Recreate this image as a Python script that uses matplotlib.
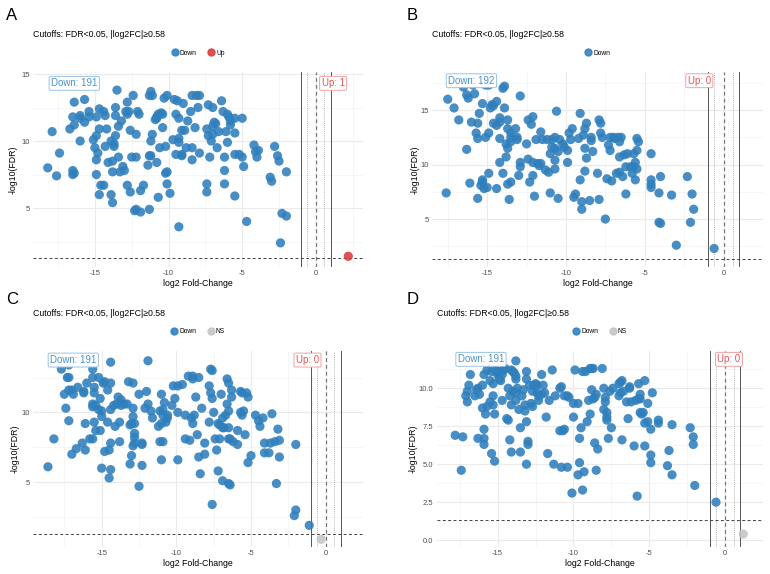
import matplotlib
matplotlib.use('Agg')
import matplotlib.pyplot as plt
from matplotlib.lines import Line2D

plt.rcParams['font.family'] = ['Liberation Sans', 'DejaVu Sans']
plt.rcParams['axes.unicode_minus'] = False

# ---- Panel A ----
a_down_x = [-18.2, -17.9, -17.6, -17.4, -16.7, -16.4, -16.5, -16.4, -16.5, -16.5,
            -16.4, -16.0, -16.0, -16.0, -15.7, -15.7, -15.4, -15.4, -15.1, -14.9,
            -15.0, -14.9, -14.9, -14.8, -14.9, -14.7, -14.7, -14.7, -14.6, -14.4,
            -14.4, -14.3, -14.3, -14.2, -14.1, -13.9, -13.9, -13.8, -13.8, -13.8,
            -13.7, -13.7, -13.6, -13.6, -13.6, -13.5, -13.4, -13.4, -13.3, -13.2,
            -13.1, -13.0, -12.9, -12.8, -12.8, -12.8, -12.7, -12.6, -12.6, -12.5,
            -12.4, -12.3, -12.2, -12.2, -12.2, -12.1, -12.0, -11.9, -11.9, -11.7,
            -11.4, -11.3, -11.3, -11.2, -11.3, -11.2, -11.2, -11.1, -11.1, -10.9,
            -10.8, -10.8, -10.7, -10.8, -10.7, -10.6, -10.5, -10.4, -10.4, -10.3,
            -10.2, -10.2, -10.1, -10.1, -10.1, -9.9, -9.7, -9.6, -9.5, -9.5,
            -9.4, -9.3, -9.3, -9.3, -9.3, -9.1, -9.1, -9.1, -9.0, -8.9,
            -8.8, -8.7, -8.5, -8.4, -8.4, -8.4, -8.2, -8.1, -8.0, -7.9,
            -7.9, -7.4, -7.4, -7.4, -7.3, -7.3, -7.2, -7.1, -7.0, -7.0,
            -7.0, -6.9, -6.8, -6.7, -6.6, -6.4, -6.3, -6.2, -6.2, -6.2,
            -6.1, -6.0, -6.0, -5.9, -5.8, -5.8, -5.5, -5.5, -5.5, -5.5,
            -5.2, -5.0, -5.0, -4.9, -4.7, -4.2, -4.1, -4.0, -3.9, -3.1,
            -3.0, -2.8, -2.6, -2.5, -2.4, -2.3, -2.0, -2.0]
a_down_y = [8.0, 10.7, 7.4, 9.1, 10.9, 12.9, 11.8, 11.2, 7.8, 7.5,
            7.6, 11.7, 11.9, 10.0, 13.1, 11.4, 12.2, 11.8, 10.1, 10.4,
            9.5, 7.5, 8.6, 9.1, 11.8, 12.4, 10.9, 6.0, 6.7, 6.7,
            12.2, 11.9, 9.6, 10.9, 8.4, 6.0, 10.0, 8.5, 5.4, 7.7,
            9.8, 9.6, 10.4, 11.9, 12.5, 13.8, 11.1, 8.8, 7.7, 11.5,
            8.1, 7.8, 12.2, 12.9, 12.0, 6.7, 12.2, 10.8, 6.2, 8.8,
            13.4, 4.8, 8.8, 10.5, 4.9, 12.2, 12.0, 4.7, 6.3, 6.7,
            8.2, 8.9, 4.9, 8.9, 13.4, 10.0, 13.7, 13.4, 10.5, 11.6,
            11.7, 11.8, 12.0, 8.4, 5.8, 9.5, 12.1, 11.0, 12.0, 13.2,
            9.6, 7.6, 13.4, 7.7, 6.8, 6.1, 10.1, 13.1, 12.0, 9.0,
            13.0, 11.7, 10.2, 9.9, 3.6, 8.9, 9.0, 10.8, 12.8, 10.8,
            9.5, 11.5, 12.2, 9.5, 8.6, 13.4, 11.0, 13.4, 12.5, 13.4,
            9.1, 6.8, 6.2, 10.9, 10.4, 12.7, 8.8, 10.0, 10.5, 12.5,
            11.1, 11.4, 11.3, 9.5, 10.7, 13.0, 12.2, 8.8, 6.8, 7.8,
            10.7, 9.9, 12.0, 11.8, 11.5, 11.2, 11.7, 9.0, 10.6, 5.9,
            9.0, 11.7, 8.8, 8.1, 4.0, 9.7, 9.2, 8.8, 9.3, 7.3,
            7.0, 9.6, 8.9, 8.5, 2.4, 4.6, 4.4, 7.7]
a_up_x = [2.2]
a_up_y = [1.4]

# ---- Panel B ----
b_down_x = [-17.6, -17.5, -17.1, -16.8, -16.5, -16.3, -16.3, -16.2, -16.1, -16.0,
            -15.9, -15.8, -15.7, -15.6, -15.6, -15.6, -15.5, -15.4, -15.3, -15.3,
            -15.3, -15.2, -15.1, -15.1, -15.0, -14.9, -14.9, -14.9, -14.8, -14.7,
            -14.6, -14.6, -14.4, -14.4, -14.4, -14.2, -14.2, -14.2, -14.2, -14.0,
            -14.0, -13.9, -13.9, -13.8, -13.8, -13.7, -13.7, -13.7, -13.7, -13.6,
            -13.5, -13.5, -13.5, -13.5, -13.2, -13.1, -13.1, -13.0, -12.9, -12.9,
            -12.9, -12.5, -12.4, -12.4, -12.3, -12.2, -12.1, -12.1, -12.1, -12.0,
            -11.9, -11.8, -11.7, -11.6, -11.6, -11.5, -11.3, -11.2, -11.1, -11.0,
            -11.0, -10.9, -10.9, -10.7, -10.7, -10.7, -10.7, -10.6, -10.5, -10.5,
            -10.4, -10.2, -10.1, -9.9, -9.9, -9.8, -9.7, -9.6, -9.5, -9.4,
            -9.2, -9.1, -9.1, -9.0, -9.0, -8.9, -8.8, -8.8, -8.8, -8.7,
            -8.7, -8.5, -8.4, -8.4, -8.3, -8.0, -7.9, -7.9, -7.8, -7.8,
            -7.7, -7.5, -7.4, -7.3, -7.2, -7.2, -7.1, -7.0, -6.9, -6.8,
            -6.7, -6.6, -6.6, -6.6, -6.5, -6.4, -6.3, -6.2, -6.2, -6.1,
            -5.9, -5.8, -5.7, -5.7, -5.6, -5.6, -5.5, -5.5, -5.5, -5.4,
            -4.6, -4.6, -4.6, -4.6, -4.1, -4.0, -4.1, -4.0, -3.3, -3.0,
            -2.3, -2.1, -2.0, -1.9, -0.6]
b_down_y = [7.4, 16.0, 15.2, 14.1, 17.1, 11.4, 16.4, 16.1, 8.3, 13.9,
            17.3, 16.5, 12.9, 13.8, 12.4, 6.9, 14.7, 8.1, 8.6, 8.4,
            15.6, 7.8, 12.5, 17.3, 7.9, 17.3, 9.2, 12.9, 15.2, 15.5,
            15.4, 13.8, 13.6, 15.8, 7.8, 12.4, 10.2, 14.3, 13.9, 9.2,
            17.0, 17.2, 15.2, 11.9, 10.7, 14.1, 13.3, 11.5, 8.2, 6.8,
            8.4, 12.9, 12.5, 12.1, 13.3, 12.5, 12.3, 9.0, 9.8, 10.2,
            16.3, 11.9, 14.1, 10.5, 8.4, 13.7, 9.0, 10.2, 14.4, 7.1,
            12.3, 10.1, 9.9, 10.1, 13.0, 12.3, 9.5, 12.3, 9.3, 11.0,
            7.4, 12.3, 11.6, 10.4, 9.6, 12.5, 11.5, 14.9, 11.2, 6.9,
            12.3, 11.9, 11.6, 11.3, 10.2, 12.9, 12.3, 13.3, 7.0, 7.3,
            12.4, 8.6, 14.7, 5.9, 6.6, 12.7, 11.5, 9.4, 13.3, 10.6,
            13.8, 6.7, 12.2, 12.5, 11.2, 9.2, 14.1, 6.8, 13.8, 12.9,
            12.5, 5.0, 8.7, 11.8, 12.5, 11.3, 8.5, 12.5, 12.4, 9.2,
            12.5, 9.3, 12.1, 10.7, 12.5, 8.9, 10.9, 9.8, 7.3, 11.0,
            9.8, 9.2, 11.0, 9.8, 10.2, 8.6, 12.4, 11.3, 9.6, 12.1,
            11.0, 8.6, 8.2, 7.9, 7.4, 8.9, 4.7, 4.6, 7.2, 2.6,
            8.9, 4.7, 7.3, 5.9, 2.3]

# ---- Panel C ----
c_down_x = [-18.6, -18.2, -17.7, -17.5, -17.4, -17.3, -17.2, -17.2, -17.2, -17.0,
            -17.0, -16.9, -16.7, -16.6, -16.3, -16.2, -16.2, -16.1, -16.1, -16.0,
            -15.8, -15.6, -15.6, -15.6, -15.6, -15.6, -15.5, -15.5, -15.5, -15.4,
            -15.4, -15.2, -15.2, -15.1, -15.1, -15.0, -15.0, -15.0, -14.9, -14.8,
            -14.8, -14.6, -14.6, -14.5, -14.5, -14.4, -14.4, -14.4, -14.4, -14.4,
            -14.2, -14.1, -14.0, -13.9, -13.8, -13.8, -13.7, -13.7, -13.5, -13.3,
            -13.2, -13.1, -13.1, -13.0, -13.0, -12.9, -12.9, -12.9, -12.9, -12.8,
            -12.8, -12.8, -12.8, -12.5, -12.5, -12.3, -12.3, -12.3, -12.1, -12.0,
            -11.9, -11.9, -11.7, -11.6, -11.2, -11.1, -11.1, -11.0, -11.0, -11.0,
            -10.9, -10.9, -10.9, -10.8, -10.7, -10.6, -10.6, -10.3, -10.2, -10.1,
            -9.9, -9.9, -9.9, -9.6, -9.4, -9.4, -9.2, -9.1, -9.0, -8.9,
            -8.9, -8.9, -8.8, -8.7, -8.6, -8.5, -8.5, -8.4, -8.3, -8.1,
            -8.1, -7.8, -7.8, -7.7, -7.7, -7.6, -7.6, -7.6, -7.5, -7.4,
            -7.3, -7.2, -7.2, -7.1, -7.1, -7.0, -6.9, -6.9, -6.9, -6.8,
            -6.7, -6.6, -6.6, -6.5, -6.5, -6.5, -6.5, -6.5, -6.4, -6.4,
            -6.3, -6.3, -6.2, -5.9, -5.9, -5.7, -5.7, -5.6, -5.6, -5.5,
            -5.4, -5.3, -5.2, -5.2, -5.0, -4.7, -4.5, -4.4, -4.2, -4.1,
            -4.1, -3.8, -3.7, -3.6, -3.4, -3.3, -3.2, -3.1, -3.1, -2.0,
            -2.0, -2.1, -1.1, -17.2]
c_down_y = [6.1, 8.1, 13.1, 11.3, 10.3, 12.5, 9.4, 12.5, 11.6, 7.0,
            11.6, 11.3, 7.4, 11.8, 7.8, 11.5, 11.4, 9.2, 7.3, 12.1,
            8.1, 13.1, 12.5, 10.4, 10.6, 8.1, 9.3, 11.8, 11.4, 8.7,
            10.5, 12.5, 10.2, 11.0, 8.7, 6.0, 10.1, 9.7, 12.1, 7.2,
            12.2, 11.6, 9.3, 5.3, 7.3, 13.6, 12.1, 10.2, 5.9, 7.8,
            10.5, 9.0, 10.6, 11.1, 9.3, 7.9, 10.9, 10.5, 10.6, 10.6,
            12.2, 6.3, 9.1, 6.9, 9.2, 9.7, 12.1, 10.3, 7.6, 8.5,
            8.2, 7.8, 9.2, 11.3, 4.7, 7.8, 7.7, 6.2, 10.3, 11.5,
            10.6, 13.7, 10.1, 9.6, 9.0, 7.9, 10.1, 11.3, 9.2, 6.6,
            7.9, 9.8, 10.2, 10.7, 9.3, 9.8, 9.6, 10.5, 11.9, 11.0,
            6.6, 10.0, 11.9, 12.0, 9.8, 8.1, 12.6, 8.0, 9.6, 9.2,
            12.6, 12.4, 9.8, 11.1, 8.4, 12.5, 6.8, 5.6, 10.3, 7.8,
            7.0, 9.3, 11.9, 11.4, 13.1, 3.4, 13.0, 11.0, 10.0, 8.1,
            7.3, 9.2, 5.8, 9.1, 8.1, 11.3, 5.1, 9.6, 8.9, 8.9,
            9.8, 10.6, 12.4, 12.1, 10.1, 8.9, 4.9, 8.1, 8.1, 4.8,
            11.6, 11.1, 7.9, 8.7, 7.7, 11.5, 10.0, 11.4, 9.8, 10.1,
            8.4, 11.4, 11.1, 6.4, 6.9, 9.8, 9.4, 9.0, 9.6, 7.8,
            7.1, 7.1, 7.8, 9.9, 7.9, 4.9, 8.8, 8.0, 6.8, 7.7,
            3.0, 2.6, 1.9, 13.4]
c_ns_x = [-0.3]
c_ns_y = [0.9]

# ---- Panel D ----
d_down_x = [-17.8, -17.4, -17.3, -17.1, -17.0, -17.0, -16.9, -16.8, -16.5, -16.4,
            -16.3, -16.3, -16.2, -16.0, -16.0, -15.9, -15.9, -15.9, -15.9, -15.8,
            -15.7, -15.7, -15.5, -15.5, -15.4, -15.4, -15.3, -15.3, -15.3, -15.2,
            -15.2, -15.1, -15.1, -15.0, -14.9, -14.8, -14.8, -14.7, -14.7, -14.6,
            -14.5, -14.4, -14.3, -14.3, -14.2, -14.2, -14.1, -14.1, -14.1, -14.0,
            -14.0, -13.9, -13.8, -13.8, -13.8, -13.8, -13.8, -13.7, -13.6, -13.5,
            -13.5, -13.4, -13.3, -13.2, -13.2, -13.1, -13.1, -13.1, -13.1, -13.0,
            -13.0, -12.9, -12.8, -12.7, -12.7, -12.6, -12.5, -12.4, -12.4, -12.3,
            -12.3, -12.1, -12.1, -12.0, -11.9, -11.8, -11.7, -11.6, -11.4, -11.3,
            -11.2, -10.9, -10.8, -10.8, -10.9, -10.7, -10.6, -10.6, -10.4, -10.4,
            -10.3, -10.1, -10.0, -10.0, -9.9, -9.7, -9.7, -9.6, -9.6, -9.5,
            -9.4, -9.4, -9.3, -9.2, -9.1, -9.0, -8.9, -8.9, -8.8, -8.8,
            -8.7, -8.7, -8.6, -8.6, -8.5, -8.5, -8.4, -8.1, -8.0, -8.0,
            -7.9, -7.9, -7.8, -7.8, -7.8, -7.7, -7.6, -7.5, -7.4, -7.0,
            -7.0, -6.9, -6.9, -6.8, -6.8, -6.7, -6.5, -6.4, -6.3, -6.3,
            -6.2, -6.0, -5.9, -5.8, -5.7, -5.7, -5.6, -5.6, -5.6, -5.5,
            -5.4, -5.3, -5.3, -5.3, -5.1, -5.1, -4.9, -4.9, -4.9, -4.8,
            -4.4, -4.4, -3.8, -3.7, -3.5, -3.5, -2.3, -2.1, -2.1, -2.0,
            -0.6]
d_down_y = [6.9, 4.6, 6.8, 9.5, 9.1, 9.8, 10.2, 10.9, 9.5, 9.9,
            10.0, 6.7, 9.6, 10.2, 8.7, 6.7, 6.3, 7.3, 10.9, 8.3,
            8.8, 11.2, 9.1, 10.5, 11.1, 5.7, 9.5, 10.3, 8.9, 5.2,
            8.3, 11.1, 11.2, 10.9, 10.6, 10.5, 11.1, 10.9, 9.2, 11.2,
            11.3, 8.0, 7.9, 10.0, 9.5, 6.6, 11.2, 5.8, 8.9, 9.8,
            11.1, 11.0, 10.8, 10.6, 11.8, 9.7, 9.2, 10.0, 8.6, 5.8,
            7.4, 9.5, 9.9, 8.9, 8.5, 5.0, 10.6, 11.1, 7.8, 6.3,
            6.5, 10.2, 9.0, 8.8, 9.8, 10.2, 10.3, 9.7, 10.2, 9.5,
            9.2, 10.9, 9.6, 10.2, 9.7, 8.1, 5.7, 9.2, 11.2, 5.0,
            9.5, 10.0, 10.1, 4.8, 7.2, 7.2, 7.3, 9.5, 9.5, 4.8,
            9.4, 3.1, 9.0, 8.1, 11.2, 4.3, 9.0, 5.1, 6.7, 7.4,
            3.3, 11.1, 4.5, 11.1, 7.8, 9.2, 11.3, 8.3, 9.9, 11.3,
            9.3, 11.3, 9.4, 6.4, 4.6, 9.6, 6.0, 11.3, 8.6, 10.0,
            9.4, 9.1, 8.4, 8.1, 7.9, 6.7, 9.8, 7.4, 10.0, 9.5,
            10.3, 10.4, 9.7, 6.6, 10.5, 9.8, 9.1, 8.0, 10.0, 10.1,
            9.1, 6.2, 9.2, 2.9, 9.3, 10.3, 9.6, 9.3, 8.4, 8.3,
            8.4, 7.7, 10.5, 6.2, 9.0, 7.8, 5.6, 5.1, 7.3, 9.7,
            7.9, 7.7, 4.9, 5.9, 7.6, 4.3, 7.4, 6.8, 6.3, 3.6,
            2.5]
d_ns_x = [1.2]
d_ns_y = [0.4]

down_counts = [191, 192, 191, 191]
up_counts = [1, 0, 0, 0]
panel_letters = ['A', 'B', 'C', 'D']
subtitle = 'Cutoffs: FDR<0.05, |log2FC|\u22650.58'

BLUE = '#2f7fbc'
RED = '#d93a3a'
GREY = '#c4c4c4'

fig = plt.figure(figsize=(7.7, 5.74), dpi=100)

W, H = 770, 574


def make_ax(left, top, right, bottom):
    return fig.add_axes([left / W, 1 - bottom / H, (right - left) / W, (bottom - top) / H])


# panel boxes in pixels (left, top, right, bottom)
boxes = [(33, 72, 363, 267), (432, 72, 763, 267), (33, 351, 363, 547), (437, 351, 763, 547)]
axes = [make_ax(*b) for b in boxes]

series = [
    [(a_down_x, a_down_y, BLUE, 'Down'), (a_up_x, a_up_y, RED, 'Up')],
    [(b_down_x, b_down_y, BLUE, 'Down')],
    [(c_down_x, c_down_y, BLUE, 'Down'), (c_ns_x, c_ns_y, GREY, 'NS')],
    [(d_down_x, d_down_y, BLUE, 'Down'), (d_ns_x, d_ns_y, GREY, 'NS')],
]
xlims = [(-19.2, 3.2), (-18.5, 1.85), (-19.6, 1.9), (-19.0, 2.1)]
ylims = [(0.6, 15.15), (0.6, 18.5), (0.35, 14.4), (-0.45, 12.45)]
yticks = [[5, 10, 15], [5, 10, 15], [5, 10], [0, 2.5, 5, 7.5, 10]]
yminor = [[2.5, 7.5, 12.5], [2.5, 7.5, 12.5, 17.5], [2.5, 7.5, 12.5],
          [1.25, 3.75, 6.25, 8.75, 11.25]]
ylabels_fmt = ['{:g}', '{:g}', '{:g}', '{:.1f}']
down_label_pos = [(-16.4, 14.3), (-16.0, 17.7), (-16.9, 13.75), (-16.1, 11.9)]
up_label_pos = [(1.17, 14.3), (-1.54, 17.7), (-1.22, 13.75), (0.26, 11.9)]
ylabel_px = [13, 415, 15, 413]   # centre of the rotated y title, in pixels

for i, ax in enumerate(axes):
    left, top, right, bottom = boxes[i]
    ax.set_xlim(*xlims[i])
    ax.set_ylim(*ylims[i])
    ax.set_xticks([-15, -10, -5, 0])
    ax.set_xticks([-17.5, -12.5, -7.5, -2.5, 2.5], minor=True)
    ax.set_yticks(yticks[i])
    ax.set_yticklabels([ylabels_fmt[i].format(t) for t in yticks[i]])
    ax.set_yticks(yminor[i], minor=True)
    ax.grid(which='major', color='#ebebeb', lw=0.8)
    ax.grid(which='minor', color='#f3f3f3', lw=0.5)
    ax.set_axisbelow(True)
    for s in ax.spines.values():
        s.set_visible(False)
    ax.tick_params(which='both', length=0, labelsize=5.5, labelcolor='#4d4d4d', pad=2.5)

    # cutoff lines
    ax.axvline(-1, color='#555555', lw=0.7, zorder=1)
    ax.axvline(1, color='#555555', lw=0.7, zorder=1)
    ax.axvline(-0.58, color='#999999', lw=0.6, ls=(0, (1, 1.5)), zorder=1)
    ax.axvline(0.58, color='#999999', lw=0.6, ls=(0, (1, 1.5)), zorder=1)
    ax.axvline(0, color='#777777', lw=0.9, ls=(0, (3, 2.5)), zorder=1)
    ax.axhline(1.3, color='#444444', lw=0.7, ls=(0, (3, 2.5)), zorder=1)

    handles = []
    for xs, ys, col, name in series[i]:
        assert len(xs) == len(ys)
        ax.scatter(xs, ys, s=44, color=col, alpha=0.88, edgecolors='none', zorder=3)
        handles.append(Line2D([], [], ls='none', marker='o', ms=5, color=col,
                              alpha=0.88, label=name))

    ax.legend(handles=handles, loc='center', bbox_to_anchor=(0.5, 1.097), ncol=len(handles),
              frameon=False, fontsize=4.8, handletextpad=0.3, columnspacing=1.6,
              handlelength=1.0, borderaxespad=0)

    dx, dy = down_label_pos[i]
    ax.text(dx, dy, 'Down: %d' % down_counts[i], color='#4a93c9', fontsize=7,
            ha='center', va='center', zorder=5,
            bbox=dict(boxstyle='round,pad=0.2,rounding_size=0.15', fc='white',
                      ec='#9cc3e2', lw=0.7))
    ux, uy = up_label_pos[i]
    ax.text(ux, uy, 'Up: %d' % up_counts[i], color='#e05555', fontsize=7,
            ha='center', va='center', zorder=5,
            bbox=dict(boxstyle='round,pad=0.2,rounding_size=0.15', fc='white',
                      ec='#f0a3a3', lw=0.7))

    ax.set_xlabel('log2 Fold-Change', fontsize=6.3)
    ax.xaxis.set_label_coords(0.5, -12 / (bottom - top))
    ax.set_ylabel('-log10(FDR)', fontsize=6.3)
    ax.yaxis.set_label_coords((ylabel_px[i] + 4.4 - left) / (right - left), 0.5)

    ax.text(0, 1 + 37.5 / (bottom - top), subtitle, transform=ax.transAxes, fontsize=6.3,
            ha='left', va='center')

fig.text(12 / W, 1 - 15 / H, 'A', fontsize=12, ha='center', va='center')
fig.text(412 / W, 1 - 15 / H, 'B', fontsize=12, ha='center', va='center')
fig.text(12 / W, 1 - 299 / H, 'C', fontsize=12, ha='center', va='center')
fig.text(413 / W, 1 - 299 / H, 'D', fontsize=12, ha='center', va='center')

fig.savefig('out.png', dpi=100, facecolor='white')
